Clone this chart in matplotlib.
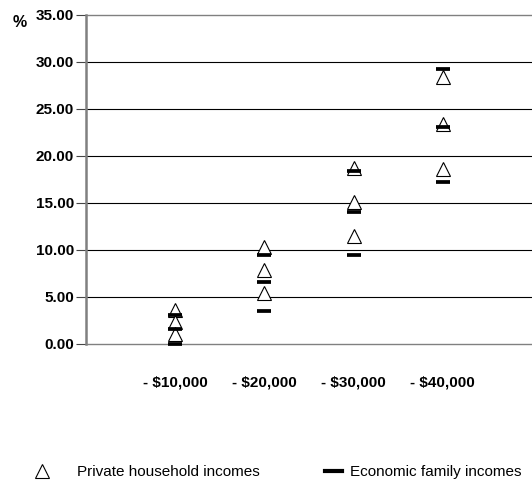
import numpy as np
import matplotlib.pyplot as plt
from matplotlib.lines import Line2D

plt.rcParams['font.family'] = ['Liberation Sans', 'DejaVu Sans']

categories = ['- $10,000', '- $20,000', '- $30,000', '- $40,000']

# three estimates per income band
private_household = [
    [3.65, 2.3, 1.05],
    [10.3, 7.85, 5.4],
    [18.7, 15.1, 11.5],
    [28.45, 23.4, 18.6],
]
economic_family = [
    [3.05, 1.6, 0.0],
    [9.5, 6.6, 3.5],
    [18.4, 14.0, 9.5],
    [29.3, 23.1, 17.25],
]

yticks = np.arange(0, 35.01, 5)

fig = plt.figure(figsize=(5.32, 4.96), dpi=100)
ax = fig.add_axes([0.1617, 0.3065, 0.8383, 0.6633])

for i, vals in enumerate(private_household):
    ax.plot([i + 1] * len(vals), vals, linestyle='none', marker='^',
            markersize=9.5, mfc='white', mec='black', mew=0.8, zorder=3,
            clip_on=False)
for i, vals in enumerate(economic_family):
    ax.plot([i + 1] * len(vals), vals, linestyle='none', marker='_',
            markersize=10.5, mew=2.7, color='black', zorder=4, clip_on=False)

ax.set_xlim(0, 5)
ax.set_ylim(0, 35)
ax.set_yticks(yticks)
ax.set_yticklabels(['%.2f' % v for v in yticks], fontsize=11, fontweight='bold')
ax.set_xticks(range(1, 5))
ax.set_xticklabels(categories, fontsize=11, fontweight='bold')
ax.tick_params(axis='x', length=0, pad=23)
ax.tick_params(axis='y', length=7, width=0.8, pad=1.5, color='#444444')
for v in yticks:
    edge = v in (0, 35)
    ax.axhline(v, color='#808080' if edge else 'black',
               linewidth=1.0 if edge else 0.8, zorder=1, clip_on=False)
for side in ['top', 'right', 'bottom']:
    ax.spines[side].set_visible(False)
ax.spines['left'].set_color('#808080')
ax.spines['left'].set_linewidth(1.8)

fig.text(0.024, 0.954, '%', fontsize=11.5, fontweight='bold', va='center')

tri = Line2D([], [], linestyle='none', marker='^', markersize=9.5,
             mfc='white', mec='black', mew=0.8)
dash = Line2D([], [], color='black', linewidth=3)
fig.legend(handles=[tri], labels=['Private household incomes'],
           loc='center left', bbox_to_anchor=(0.0703, 0.048), frameon=False,
           fontsize=11, borderpad=0, borderaxespad=0, handlelength=0.6,
           handletextpad=2.0)
fig.legend(handles=[dash], labels=['Economic family incomes'],
           loc='center left', bbox_to_anchor=(0.611, 0.048), frameon=False,
           fontsize=11, borderpad=0, borderaxespad=0, handlelength=1.1,
           handletextpad=0.52)

fig.savefig('out.png', dpi=100)
